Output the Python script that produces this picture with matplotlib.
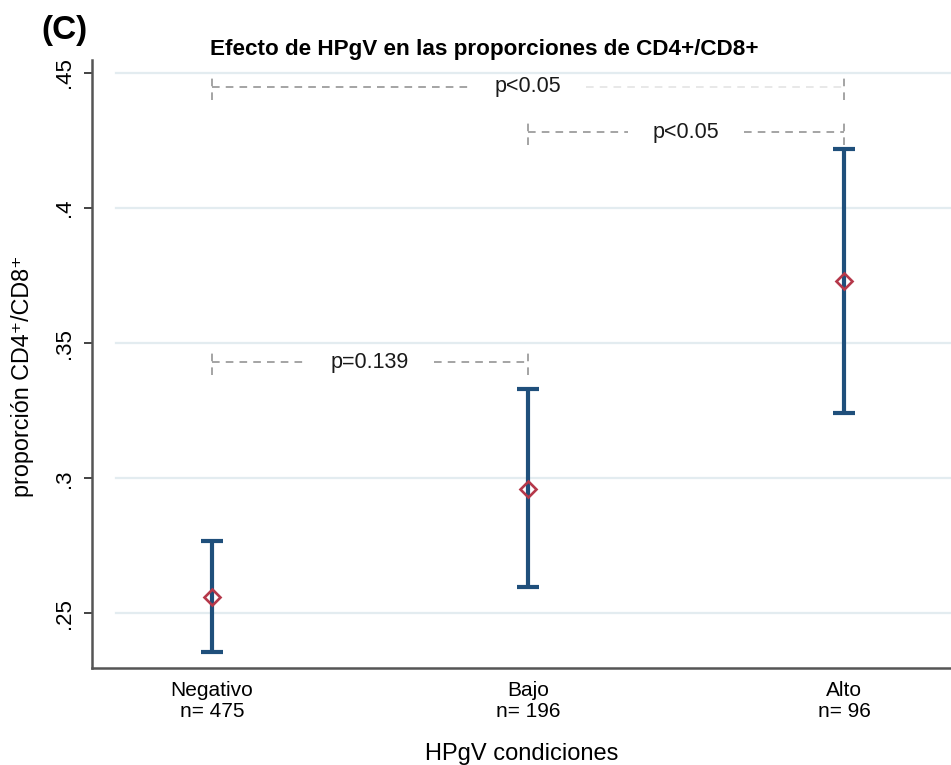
import matplotlib.pyplot as plt

plt.rcParams['font.family'] = ['Liberation Sans', 'DejaVu Sans']

# group summaries: mean proportion and 95% CI
groups = ["Negativo", "Bajo", "Alto"]
n_obs = [475, 196, 96]
means = [0.2559, 0.2961, 0.3729]
ci_low = [0.2356, 0.2597, 0.3242]
ci_high = [0.2766, 0.3330, 0.4220]

# pairwise comparisons: (group a, group b, y level, label)
comparisons = [
    (0, 2, 0.4448, "p<0.05"),
    (1, 2, 0.4280, "p<0.05"),
    (0, 1, 0.3430, "p=0.139"),
]

yticks = [0.25, 0.30, 0.35, 0.40, 0.45]
ytick_labels = [".25", ".3", ".35", ".4", ".45"]

fig = plt.figure(figsize=(9.51, 7.65), dpi=100)
ax = fig.add_axes([0.0967, 0.1265, 0.9033, 0.7951])

x = [1, 2, 3]
err = [[m - lo for m, lo in zip(means, ci_low)],
       [hi - m for m, hi in zip(means, ci_high)]]

for yv in yticks:
    ax.axhline(yv, xmin=0.028, xmax=1, color='#e3ecf0', lw=1.6, zorder=0)

ax.errorbar(x, means, yerr=err, fmt='none', ecolor='#1f4f7b',
            elinewidth=3, capsize=8, capthick=3, zorder=3)
ax.plot(x, means, 'D', ms=8, mfc='none', mec='#b5384a', mew=1.9, zorder=4)

ax.set_xlim(0.621, 3.338)
ax.set_ylim(0.2297, 0.4548)

# comparison brackets, with a gap left around each label
dash = dict(lw=1.1, linestyle=(0, (5, 4)), zorder=2)
right_colors = ['#e2e2e2', '#8c8c8c', '#8c8c8c']
tick_h = 0.0048
gap_px = 25
labels = []
for a, b, yv, lab in comparisons:
    xa, xb = x[a], x[b]
    labels.append(ax.text((xa + xb) / 2, yv, lab, ha='center', va='center',
                          fontsize=15.5, color='#1a1a1a', zorder=5))
fig.canvas.draw()
inv = ax.transData.inverted()
for (a, b, yv, lab), t, rc in zip(comparisons, labels, right_colors):
    xa, xb = x[a], x[b]
    bb = t.get_window_extent()
    gl = inv.transform((bb.x0 - gap_px, 0))[0]
    gr = inv.transform((bb.x1 + gap_px, 0))[0]
    ax.vlines(xa, yv - tick_h, yv + tick_h, color='#8c8c8c', **dash)
    ax.vlines(xb, yv - tick_h, yv + tick_h, color='#8c8c8c', **dash)
    ax.hlines(yv, xa, gl, color='#8c8c8c', **dash)
    ax.hlines(yv, gr, xb, color=rc, **dash)

ax.set_xticks(x)
ax.set_xticklabels([f"{g}\nn= {n}" for g, n in zip(groups, n_obs)],
                   fontsize=15, linespacing=1.15)
ax.tick_params(axis='x', length=0, pad=9)
ax.set_yticks(yticks)
ax.set_yticklabels(ytick_labels, rotation=90, va='center', fontsize=16)
ax.tick_params(axis='y', length=6, width=1.2, color='#222222', pad=6)

for side in ['top', 'right']:
    ax.spines[side].set_visible(False)
for side in ['left', 'bottom']:
    ax.spines[side].set_color('#555555')
    ax.spines[side].set_linewidth(1.8)

ax.set_xlabel("HPgV condiciones", fontsize=17, labelpad=16)
ax.set_ylabel("proporción CD4⁺/CD8⁺", fontsize=16.8)
ax.yaxis.set_label_coords(-0.067, 0.48)

fig.text(0.509, 0.935, "Efecto de HPgV en las proporciones de CD4+/CD8+",
         ha='center', va='center', fontsize=16.2, fontweight='bold')
fig.text(0.044, 0.960, "(C)", ha='left', va='center', fontsize=24,
         fontweight='bold')

fig.savefig("out.png", dpi=100)
